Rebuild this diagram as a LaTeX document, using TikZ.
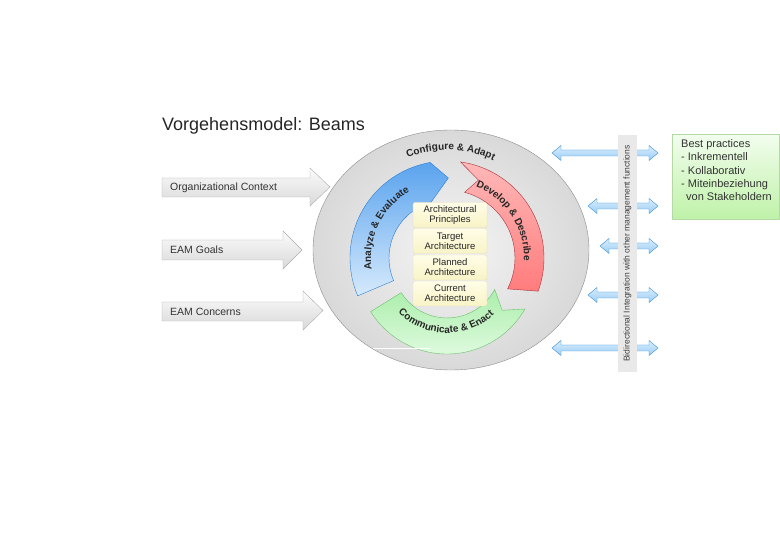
\documentclass[tikz,border=0pt]{standalone}
\usepackage{fontspec}
\setmainfont{Liberation Sans}
\usetikzlibrary{decorations.text}

\definecolor{ringedge}{HTML}{8C8C8C}
\definecolor{bluetop}{HTML}{5AA3EE}
\definecolor{bluebot}{HTML}{D6EAFC}
\definecolor{blueline}{HTML}{2F7FCF}
\definecolor{redtop}{HTML}{FFB8B8}
\definecolor{redbot}{HTML}{FF7C7C}
\definecolor{redline}{HTML}{A8303C}
\definecolor{greentop}{HTML}{ABEEAB}
\definecolor{greenbot}{HTML}{E8FCE8}
\definecolor{greenline}{HTML}{6CC06C}
\definecolor{boxtop}{HTML}{FFFDE8}
\definecolor{boxbot}{HTML}{F8F3C6}
\definecolor{boxline}{HTML}{E2DDB8}
\definecolor{bitop}{HTML}{D9EEFD}
\definecolor{bibot}{HTML}{9ACDF6}
\definecolor{biline}{HTML}{3A8FD6}
\definecolor{notetop}{HTML}{F2FDEE}
\definecolor{notebot}{HTML}{BFF2A8}
\definecolor{noteline}{HTML}{B5D9A5}

\newcommand{\arcfont}{\fontsize{10}{10}\selectfont\bfseries}

\begin{document}
\begin{tikzpicture}[x=1pt, y=1pt,
    inarrow/.style={draw=gray!65, top color=gray!3, bottom color=gray!30},
    inlabel/.style={anchor=west, inner sep=0pt, font=\fontsize{10.5}{12}\selectfont, text=black!80},
    archbox/.style={draw=boxline, rounded corners=2pt, top color=boxtop, bottom color=boxbot, minimum width=74pt, minimum height=25pt, inner sep=0pt, align=center, font=\fontsize{9.5}{10}\selectfont, text=black!85},
    biarrow/.style={draw=biline, top color=bitop, bottom color=bibot},
    arclabel/.style={decorate, decoration={text along path, text align=center, text color=black!85, text={|\arcfont|#1}}}]

  \useasboundingbox (0,0) rectangle (780,540);

  \node[anchor=base west, inner sep=0pt, font=\fontsize{18}{20}\selectfont, text=black!85] (title) at (162,409) {Vorgehensmodel: Beams};

  % outer ring
  \draw[draw=ringedge, inner color=gray!8, outer color=gray!30] (451,290) ellipse [x radius=138, y radius=120];

  % cycle arrows
  \begin{scope}[shift={(447,276)}]
    \draw[draw=greenline, top color=greentop, bottom color=greenbot] (330:90) arc[start angle=330, end angle=212, radius=90] -- (212:54) arc[start angle=212, end angle=332, radius=54] -- (320:72) -- cycle;
    \path[arclabel={Communicate {\&} Enact}] (209:69) arc[start angle=209, end angle=329, radius=69];
  \end{scope}
  \begin{scope}[shift={(447,282)}]
    \draw[draw=blueline, top color=bluetop, bottom color=bluebot] (203:97) arc[start angle=203, end angle=100, radius=97] -- (89:80) -- (106:58) arc[start angle=106, end angle=203, radius=58] -- cycle;
    \draw[draw=redline, top color=redtop, bottom color=redbot] (82:97) arc[start angle=82, end angle=-20, radius=97] -- (-27:68) arc[start angle=-27, end angle=75, radius=68] -- (68:84) -- cycle;
    \path[arclabel={Analyze {\&} Evaluate}] (214:76) arc[start angle=214, end angle=94, radius=76];
    \path[arclabel={Develop {\&} Describe}] (93:77) arc[start angle=93, end angle=-27, radius=77];
    \path[arclabel={Configure {\&} Adapt}] (150:108) arc[start angle=150, end angle=26, radius=108];
  \end{scope}
  \draw[white, line width=0.8pt] (373,192) -- (430,192);

  % architecture layers
  \node[archbox] (principles) at (450,325) {Architectural\\Principles};
  \node[archbox] (target) at (450,299) {Target\\Architecture};
  \node[archbox] (planned) at (450,272.5) {Planned\\Architecture};
  \node[archbox] (current) at (450,246.5) {Current\\Architecture};

  % inputs
  \draw[inarrow] (162,343) -- (310,343) -- (310,334) -- (330,353) -- (310,372) -- (310,362) -- (162,362) -- cycle;
  \node[inlabel] (context) at (170,352.5) {Organizational Context};
  \draw[inarrow] (162,280) -- (283,280) -- (283,271) -- (302,290) -- (283,309) -- (283,300) -- (162,300) -- cycle;
  \node[inlabel] (goals) at (170,290) {EAM Goals};
  \draw[inarrow] (162,219) -- (303,219) -- (303,210) -- (323,229.5) -- (303,249) -- (303,238) -- (162,238) -- cycle;
  \node[inlabel] (concerns) at (170,228.5) {EAM Concerns};

  % integration
  \draw[biarrow] (552,387) -- ++(9,7.5) -- ++(0,-4.5) -- (649,390) -- ++(0,4.5) -- (658,387) -- ++(-9,-7.5) -- ++(0,4.5) -- (561,384) -- ++(0,-4.5) -- cycle;
  \draw[biarrow] (588,334) -- ++(9,7.5) -- ++(0,-4.5) -- (649,337) -- ++(0,4.5) -- (658,334) -- ++(-9,-7.5) -- ++(0,4.5) -- (597,331) -- ++(0,-4.5) -- cycle;
  \draw[biarrow] (600,294) -- ++(9,7.5) -- ++(0,-4.5) -- (649,297) -- ++(0,4.5) -- (658,294) -- ++(-9,-7.5) -- ++(0,4.5) -- (609,291) -- ++(0,-4.5) -- cycle;
  \draw[biarrow] (588,245) -- ++(9,7.5) -- ++(0,-4.5) -- (649,248) -- ++(0,4.5) -- (658,245) -- ++(-9,-7.5) -- ++(0,4.5) -- (597,242) -- ++(0,-4.5) -- cycle;
  \draw[biarrow] (552,192) -- ++(9,7.5) -- ++(0,-4.5) -- (649,195) -- ++(0,4.5) -- (658,192) -- ++(-9,-7.5) -- ++(0,4.5) -- (561,189) -- ++(0,-4.5) -- cycle;
  \node[rotate=90, fill=gray!17, minimum width=237pt, minimum height=19pt, inner sep=0pt, font=\fontsize{8.5}{10}\selectfont, text=black!75] (bar) at (627.5,286.5) {Bidirectional Integration with other management functions};

  % notes
  \node[draw=noteline, top color=notetop, bottom color=notebot, minimum width=107pt, minimum height=85pt, inner sep=0pt, anchor=north west] (notebox) at (672,406) {};
  \node[anchor=north west, align=left, inner sep=0pt, font=\fontsize{11}{13.2}\selectfont, text=black!80] (notes) at (681,400.5) {Best practices\\- Inkrementell\\- Kollaborativ\\- Miteinbeziehung\\\hspace{5pt}von Stakeholdern};

\end{tikzpicture}
\end{document}
